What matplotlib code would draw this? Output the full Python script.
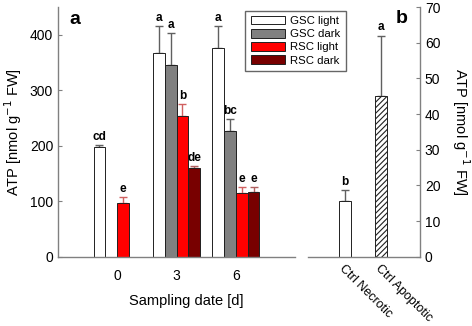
import matplotlib
matplotlib.use("Agg")
import matplotlib.pyplot as plt
import numpy as np
from matplotlib.patches import Patch

plt.rcParams['font.family'] = ['Liberation Sans', 'DejaVu Sans']
plt.rcParams['hatch.color'] = '#404040'
plt.rcParams['hatch.linewidth'] = 0.8

# Panel a data
days = ['0', '3', '6']
series = ['GSC light', 'GSC dark', 'RSC light', 'RSC dark']
gsc_light = [197, 368, 376]
gsc_light_err = [4, 47, 39]
gsc_light_lbl = ['cd', 'a', 'a']
gsc_dark = [np.nan, 346, 227]
gsc_dark_err = [np.nan, 57, 21]
gsc_dark_lbl = ['', 'a', 'bc']
rsc_light = [97, 253, 115]
rsc_light_err = [11, 22, 10]
rsc_light_lbl = ['e', 'b', 'e']
rsc_dark = [np.nan, 160, 116]
rsc_dark_err = [np.nan, 3, 9]
rsc_dark_lbl = ['', 'de', 'e']

# Panel b data
ctrl = ['Ctrl Necrotic', 'Ctrl Apoptotic']
ctrl_vals = [15.6, 45.0]
ctrl_err = [3.1, 17.0]
ctrl_lbl = ['b', 'a']

fig = plt.figure(figsize=(4.72, 3.26), dpi=100)
axa = fig.add_axes([0.1229, 0.2126, 0.625 - 0.1229, 0.9785 - 0.2126])
axb = fig.add_axes([0.6525, 0.2126, 0.8898 - 0.6525, 0.9785 - 0.2126])

spine_col = '#808080'
x = np.arange(len(days))
w = 0.2
colors = ['white', '#808080', '#ff0000', '#780000']
ecolors = ['#606060', '#606060', '#d06060', '#b06060']
data = [(gsc_light, gsc_light_err, gsc_light_lbl),
        (gsc_dark, gsc_dark_err, gsc_dark_lbl),
        (rsc_light, rsc_light_err, rsc_light_lbl),
        (rsc_dark, rsc_dark_err, rsc_dark_lbl)]
for i, (vals, errs, lbls) in enumerate(data):
    xs = x + (i - 1.5) * w
    v = np.array(vals, dtype=float)
    e = np.array(errs, dtype=float)
    axa.bar(xs, v, width=w, color=colors[i], edgecolor='#202020', linewidth=0.7, zorder=2)
    m = ~np.isnan(v)
    axa.errorbar(xs[m], v[m], yerr=[np.zeros(m.sum()), e[m]], fmt='none',
                 ecolor=ecolors[i], elinewidth=1.0, capsize=3, capthick=1.0, zorder=1)
    for xi, vi, ei, li in zip(xs, v, e, lbls):
        if li:
            axa.text(xi, vi + ei + 4, li, ha='center', va='bottom', fontsize=8.5, fontweight='bold')

axa.set_xlim(-1, 3)
axa.set_ylim(0, 450)
axa.set_xticks(x)
axa.set_xticklabels(days, fontsize=10)
axa.set_yticks([0, 100, 200, 300, 400])
axa.tick_params(axis='y', direction='in', length=3, labelsize=10, color=spine_col)
axa.tick_params(axis='x', length=0, pad=9)
for s in ['top', 'right']:
    axa.spines[s].set_visible(False)
for s in ['left', 'bottom']:
    axa.spines[s].set_color(spine_col)
    axa.spines[s].set_linewidth(1.0)
axa.set_ylabel('ATP [nmol g$^{-1}$ FW]', fontsize=10.5)
axa.yaxis.set_label_coords(-0.145, 0.5)
axa.set_xlabel('Sampling date [d]', fontsize=10.5)
axa.xaxis.set_label_coords(0.54, -0.15)
axa.text(0.05, 0.985, 'a', transform=axa.transAxes, fontsize=14, fontweight='bold', va='top')

handles = [Patch(facecolor=colors[i], edgecolor='#202020', linewidth=0.7, label=series[i]) for i in range(4)]
fig.legend(handles=handles, loc='upper left', bbox_to_anchor=(0.508, 0.985), fontsize=8.2,
           frameon=True, fancybox=False, edgecolor='#404040', handlelength=3.0, handleheight=0.8,
           labelspacing=0.25, borderpad=0.45, handletextpad=0.5)

# Panel b
xb = np.arange(len(ctrl))
axb.bar(xb[0], ctrl_vals[0], width=0.33, color='white', edgecolor='#202020', linewidth=0.7, zorder=2)
axb.bar(xb[1], ctrl_vals[1], width=0.33, color='white', edgecolor='#202020', linewidth=0.7,
        hatch='//////', zorder=2)
axb.errorbar(xb, ctrl_vals, yerr=[np.zeros(2), ctrl_err], fmt='none', ecolor='#606060',
             elinewidth=1.0, capsize=3, capthick=1.0, zorder=1)
for xi, vi, ei, li in zip(xb, ctrl_vals, ctrl_err, ctrl_lbl):
    axb.text(xi, vi + ei + 0.6, li, ha='center', va='bottom', fontsize=8.5, fontweight='bold')
axb.set_xlim(-1.03, 2.08)
axb.set_ylim(0, 70)
axb.set_xticks(xb)
axb.set_xticklabels(ctrl, rotation=-45, ha='left', va='top', rotation_mode='anchor', fontsize=9)
axb.tick_params(axis='x', length=0, pad=4)
axb.yaxis.tick_right()
axb.yaxis.set_label_position('right')
axb.set_yticks(np.arange(0, 71, 10))
axb.tick_params(axis='y', direction='in', length=3, labelsize=10, color=spine_col)
for s in ['top', 'left']:
    axb.spines[s].set_visible(False)
for s in ['right', 'bottom']:
    axb.spines[s].set_color(spine_col)
    axb.spines[s].set_linewidth(1.0)
axb.set_ylabel('ATP [nmol g$^{-1}$ FW]', fontsize=10.5, rotation=270, va='bottom')
axb.yaxis.set_label_coords(1.27, 0.5)
axb.text(0.78, 0.99, 'b', transform=axb.transAxes, fontsize=14, fontweight='bold', va='top')

fig.savefig('out.png', dpi=100)
